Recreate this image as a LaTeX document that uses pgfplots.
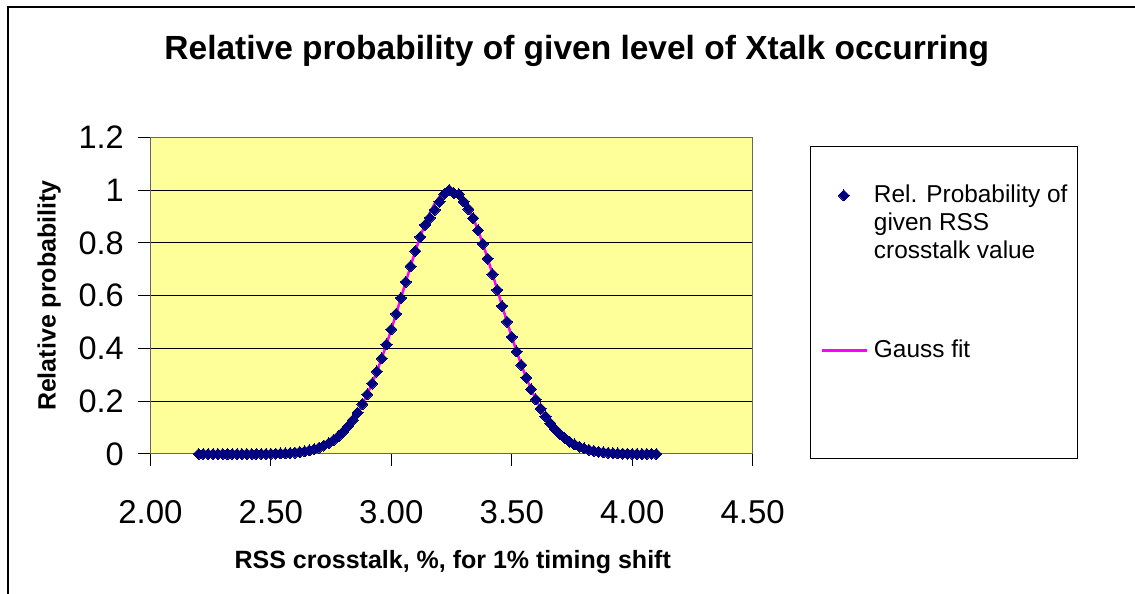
\documentclass[border=0pt]{standalone}
\usepackage{fontspec}
\setmainfont{Liberation Sans}
\usepackage{pgfplots}
\pgfplotsset{compat=1.18}
\usepackage{pgfplotstable}
\definecolor{excelyellow}{HTML}{FFFF99}
\definecolor{navyx}{HTML}{000080}
\definecolor{fitmag}{HTML}{FF00FF}
\pgfplotsset{
  diamleg/.style={legend image code/.code={\path[##1] plot coordinates {(22pt,6.7pt)};}},
  lineleg/.style={legend image code/.code={\draw[##1] (0pt,7.7pt) -- (45pt,7.7pt);}},
}

\pgfplotstableread{
x d g
2.20 0.0000 0.0000
2.22 0.0000 0.0000
2.24 0.0000 0.0000
2.26 0.0000 0.0000
2.28 0.0000 0.0000
2.30 0.0000 0.0000
2.32 0.0000 0.0000
2.34 0.0000 0.0000
2.36 0.0001 0.0001
2.38 0.0001 0.0001
2.40 0.0001 0.0001
2.42 0.0002 0.0002
2.44 0.0003 0.0003
2.46 0.0005 0.0005
2.48 0.0007 0.0007
2.50 0.0010 0.0010
2.52 0.0014 0.0014
2.54 0.0020 0.0020
2.56 0.0028 0.0028
2.58 0.0040 0.0040
2.60 0.0055 0.0055
2.62 0.0076 0.0076
2.64 0.0103 0.0103
2.66 0.0139 0.0139
2.68 0.0185 0.0185
2.70 0.0244 0.0244
2.72 0.0319 0.0319
2.74 0.0413 0.0413
2.76 0.0529 0.0529
2.78 0.0670 0.0670
2.80 0.0842 0.0842
2.82 0.1046 0.1046
2.84 0.1287 0.1287
2.86 0.1568 0.1568
2.88 0.1891 0.1891
2.90 0.2259 0.2259
2.92 0.2671 0.2671
2.94 0.3126 0.3126
2.96 0.3624 0.3624
2.98 0.4157 0.4157
3.00 0.4724 0.4724
3.02 0.5312 0.5312
3.04 0.5913 0.5913
3.06 0.6520 0.6520
3.08 0.7117 0.7117
3.10 0.7690 0.7690
3.12 0.8226 0.8226
3.14 0.8680 0.8713
3.16 0.8950 0.9137
3.18 0.9250 0.9486
3.20 0.9550 0.9750
3.22 0.9850 0.9922
3.24 1.0000 0.9997
3.26 0.9880 0.9972
3.28 0.9850 0.9848
3.30 0.9570 0.9629
3.32 0.9280 0.9321
3.34 0.8933 0.8933
3.36 0.8476 0.8476
3.38 0.7963 0.7963
3.40 0.7406 0.7406
3.42 0.6819 0.6819
3.44 0.6217 0.6217
3.46 0.5611 0.5611
3.48 0.5014 0.5014
3.50 0.4436 0.4436
3.52 0.3886 0.3886
3.54 0.3370 0.3370
3.56 0.2893 0.2893
3.58 0.2459 0.2459
3.60 0.2069 0.2069
3.62 0.1724 0.1724
3.64 0.1422 0.1422
3.66 0.1162 0.1162
3.68 0.0939 0.0939
3.70 0.0752 0.0752
3.72 0.0596 0.0596
3.74 0.0468 0.0468
3.76 0.0363 0.0363
3.78 0.0279 0.0279
3.80 0.0213 0.0213
3.82 0.0160 0.0160
3.84 0.0120 0.0120
3.86 0.0089 0.0089
3.88 0.0065 0.0065
3.90 0.0047 0.0047
3.92 0.0034 0.0034
3.94 0.0024 0.0024
3.96 0.0017 0.0017
3.98 0.0012 0.0012
4.00 0.0008 0.0008
4.02 0.0005 0.0005
4.04 0.0004 0.0004
4.06 0.0002 0.0002
4.08 0.0002 0.0002
4.10 0.0001 0.0001
}\xdata

\begin{document}
\begin{tikzpicture}[x=1pt,y=1pt]
\useasboundingbox (0,0) rectangle (1135,594);
\fill[white] (0,0) rectangle (1135,594);
\draw[black, line width=1.2pt] (8,-2) -- (8,587) -- (1137,587);
\begin{axis}[
  at={(150.4pt,140pt)}, anchor=south west,
  width=602.3pt, height=316.7pt, scale only axis,
  xmin=2, xmax=4.5, ymin=0, ymax=1.2,
  clip=false,
  axis background/.style={fill=excelyellow},
  xtick={2,2.5,3,3.5,4,4.5},
  xticklabels={2.00,2.50,3.00,3.50,4.00,4.50},
  ytick={0,0.2,0.4,0.6,0.8,1,1.2},
  yticklabels={0,0.2,0.4,0.6,0.8,1,1.2},
  xtick pos=left, ytick pos=left,
  tick align=outside,
  major tick length=12pt,
  tick style={black, line width=1pt},
  ymajorgrids,
  major grid style={black, line width=1pt},
  axis line style={black!60, line width=1pt},
  xticklabel style={font=\fontsize{33}{40}\selectfont, anchor=base, inner sep=0pt, yshift=-57pt},
  yticklabel style={font=\fontsize{32.5}{39}\selectfont, anchor=east, inner sep=0pt, xshift=-14.4pt},
  title={Relative probability of given level of Xtalk occurring},
  title style={at={(axis description cs:0.708,1.226)}, anchor=base, font=\bfseries\fontsize{33.5}{40}\selectfont},
  xlabel={RSS crosstalk, \%, for 1\% timing shift},
  xlabel style={at={(axis description cs:0.502,-0.363)}, anchor=base, font=\bfseries\fontsize{25}{30}\selectfont},
  ylabel={Relative probability},
  ylabel style={at={(axis description cs:-0.168,0.5)}, anchor=center, font=\bfseries\fontsize{25}{30}\selectfont},
  legend style={at={(axis description cs:1.0951,0.9725)}, anchor=north west,
    draw=black, line width=1pt, fill=white,
    inner xsep=10pt, inner ysep=35.8pt, row sep=73.1pt, column sep=6pt,
    cells={anchor=base west}, nodes={inner sep=0pt, text depth=},
    font=\fontsize{24.4}{28.3}\selectfont},
]
\addplot[fitmag, line width=2.5pt, forget plot] table[x=x, y=g] {\xdata};
\addplot[only marks, mark=square*, mark size=3.9pt, color=navyx,
  mark options={rotate=45, fill=navyx, draw=navyx, line width=0pt}, diamleg]
  table[x=x, y=d] {\xdata};
\addlegendentry{\begin{tabular}[t]{@{}l@{}}Rel. Probability of\\given RSS\\crosstalk value\end{tabular}}
\addlegendimage{fitmag, line width=2.5pt, lineleg}
\addlegendentry{Gauss fit\rule[-64.5pt]{0pt}{64.5pt}}
\end{axis}
\end{tikzpicture}
\end{document}
